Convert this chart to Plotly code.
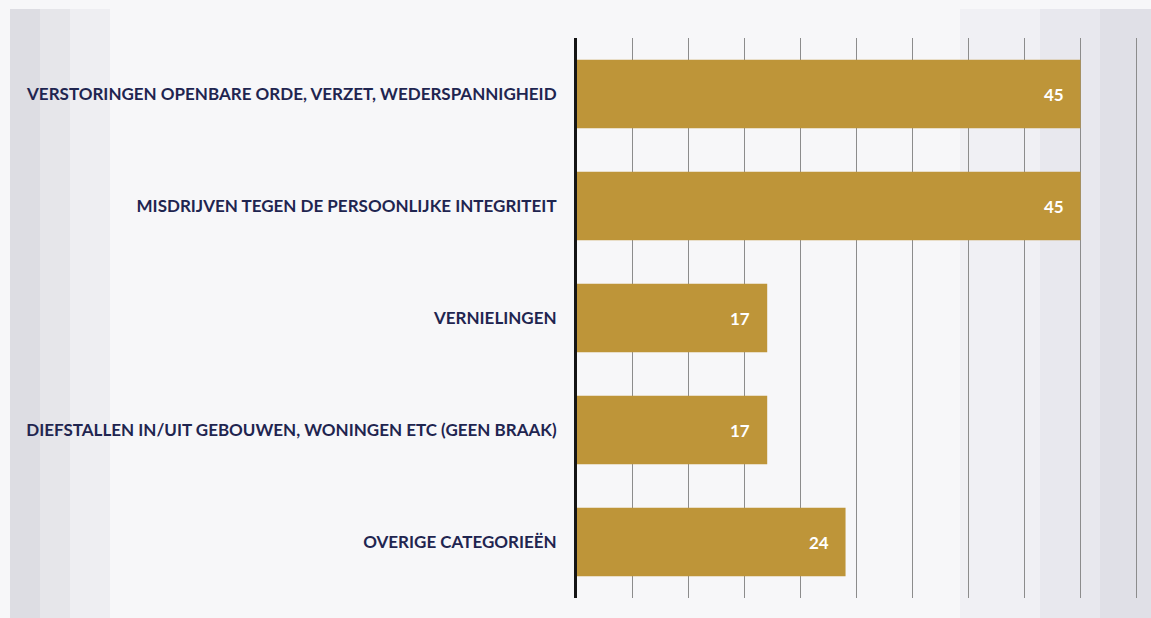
import plotly.graph_objects as go

# Categories (top to bottom) and counts
categories = [
    "VERSTORINGEN OPENBARE ORDE, VERZET, WEDERSPANNIGHEID",
    "MISDRIJVEN TEGEN DE PERSOONLIJKE INTEGRITEIT",
    "VERNIELINGEN",
    "DIEFSTALLEN IN/UIT GEBOUWEN, WONINGEN ETC (GEEN BRAAK)",
    "OVERIGE CATEGORIEËN",
]
counts = [45, 45, 17, 17, 24]

BAR_COLOR = "#be9539"
LABEL_COLOR = "#1f2550"
FONT = "Lato, 'Open Sans', sans-serif"

fig = go.Figure()
fig.add_trace(go.Bar(
    x=counts,
    y=categories,
    orientation="h",
    marker=dict(color=BAR_COLOR, line=dict(width=0)),
    width=0.61,
    hoverinfo="skip",
))

# Value labels inside the bar ends
for cat, val in zip(categories, counts):
    fig.add_annotation(
        x=val, y=cat, xref="x", yref="y",
        text=f"<b>{val}</b>", showarrow=False,
        xanchor="right", xshift=-15,
        font=dict(family=FONT, size=17, color="white"),
    )

# Soft grey shading towards the page edges (layered translucent strips)
def px_to_paper_x(px):
    return (px - 577) / 574

shapes = []
strips = [(10, 110, 0.10), (10, 70, 0.12), (10, 40, 0.14),
          (960, 1151, 0.08), (1040, 1151, 0.10), (1100, 1151, 0.12)]
for x0, x1, op in strips:
    shapes.append(dict(type="rect", xref="paper", yref="paper",
                       x0=px_to_paper_x(x0), x1=px_to_paper_x(x1),
                       y0=-0.04, y1=1.052,
                       fillcolor=f"rgba(170,170,185,{op})", line=dict(width=0),
                       layer="below"))
fig.update_layout(shapes=shapes)

fig.update_layout(
    width=1151, height=618,
    margin=dict(l=577, r=0, t=38, b=20),
    paper_bgcolor="#f7f7f9",
    plot_bgcolor="rgba(0,0,0,0)",
    showlegend=False,
    bargap=0.39,
    font=dict(family=FONT),
)
fig.update_xaxes(
    range=[0, 51.3],
    dtick=5, tick0=0,
    showgrid=True, gridcolor="#8c8c8c", gridwidth=1,
    zeroline=False, showticklabels=False, ticks="",
    showline=False, fixedrange=True,
)
fig.update_yaxes(
    autorange="reversed",
    showgrid=False, zeroline=False,
    showline=True, linecolor="#151515", linewidth=3,
    ticks="", ticklabelstandoff=14,
    tickfont=dict(family=FONT, size=17, color=LABEL_COLOR, weight="bold"),
    fixedrange=True,
)

fig.write_html("out.html")
